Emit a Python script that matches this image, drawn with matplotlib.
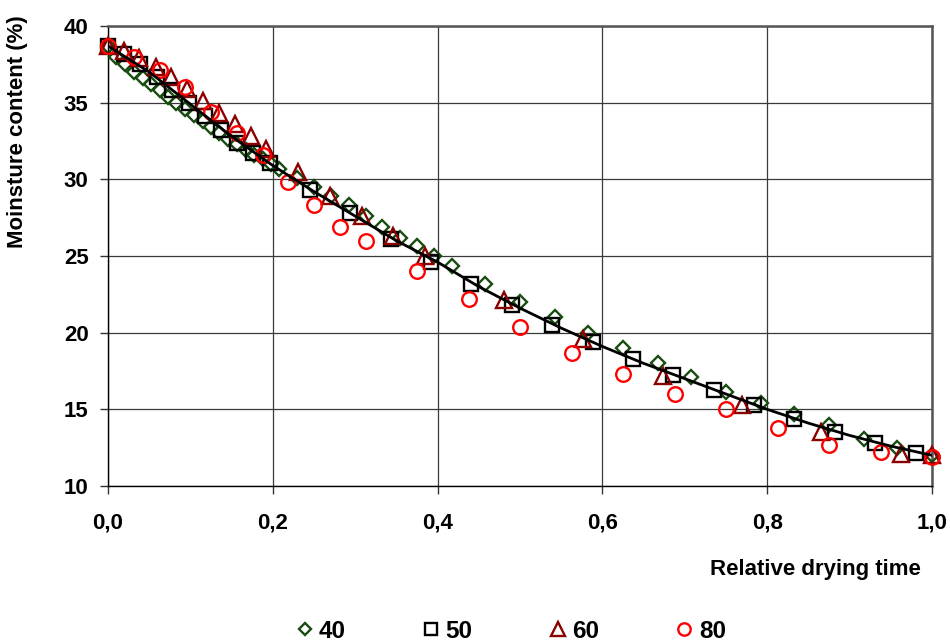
import matplotlib
matplotlib.use("Agg")
import matplotlib.pyplot as plt
from matplotlib.ticker import FuncFormatter

plt.rcParams['font.family'] = ['Liberation Sans', 'DejaVu Sans']

# ---- data ----
x40 = [0, 0.010, 0.021, 0.031, 0.042, 0.052, 0.063, 0.073, 0.083, 0.094, 0.104, 0.115,
       0.125, 0.135, 0.146, 0.156, 0.167, 0.177, 0.188, 0.198, 0.208, 0.229, 0.250, 0.271,
       0.292, 0.313, 0.333, 0.354, 0.375, 0.396, 0.417, 0.458, 0.500, 0.542, 0.583, 0.625,
       0.667, 0.708, 0.750, 0.792, 0.833, 0.875, 0.917, 0.958, 1.000]
y40 = [38.7, 38.0, 37.5, 37.0, 36.6, 36.2, 35.8, 35.4, 35.0, 34.6, 34.2, 33.8,
       33.4, 33.0, 32.6, 32.3, 31.9, 31.6, 31.3, 31.0, 30.7, 30.1, 29.5, 28.9,
       28.3, 27.6, 26.9, 26.2, 25.65, 25.0, 24.35, 23.2, 22.0, 21.0, 20.0, 19.0,
       18.0, 17.1, 16.1, 15.4, 14.7, 14.0, 13.05, 12.5, 12.0]

x50 = [0, 0.0196, 0.039, 0.059, 0.078, 0.098, 0.118, 0.137, 0.157, 0.176, 0.196, 0.245,
       0.294, 0.343, 0.392, 0.441, 0.490, 0.539, 0.588, 0.637, 0.686, 0.735, 0.784, 0.833,
       0.882, 0.931, 0.980]
y50 = [38.7, 38.2, 37.5, 36.7, 35.8, 34.95, 34.1, 33.2, 32.4, 31.7, 31.05, 29.3,
       27.8, 26.1, 24.6, 23.2, 21.8, 20.5, 19.4, 18.3, 17.24, 16.26, 15.28, 14.4,
       13.54, 12.8, 12.13]

x60 = [0, 0.019, 0.038, 0.058, 0.077, 0.096, 0.115, 0.135, 0.154, 0.173, 0.192, 0.231,
       0.269, 0.308, 0.346, 0.385, 0.481, 0.577, 0.673, 0.769, 0.865, 0.962, 1.0]
y60 = [38.7, 38.4, 37.9, 37.3, 36.7, 35.9, 35.1, 34.3, 33.6, 32.8, 32.0, 30.5,
       28.9, 27.6, 26.3, 25.0, 22.1, 19.6, 17.2, 15.3, 13.5, 12.1, 12.0]

x80 = [0, 0.031, 0.063, 0.094, 0.125, 0.156, 0.188, 0.219, 0.250, 0.281, 0.313, 0.375,
       0.438, 0.500, 0.563, 0.625, 0.688, 0.750, 0.813, 0.875, 0.938, 1.0]
y80 = [38.7, 38.0, 37.1, 36.0, 34.4, 33.0, 31.6, 29.8, 28.3, 26.9, 26.0, 24.0,
       22.2, 20.4, 18.7, 17.3, 16.0, 15.0, 13.8, 12.7, 12.2, 11.9]

fit_x = [0.00, 0.05, 0.10, 0.15, 0.20, 0.25, 0.30, 0.35, 0.40, 0.45, 0.50,
         0.55, 0.60, 0.65, 0.70, 0.75, 0.80, 0.85, 0.90, 0.95, 1.00]
fit_y = [38.7, 37.0, 34.9, 32.8, 30.9, 29.2, 27.6, 26.0, 24.6, 23.0, 21.6,
         20.3, 19.1, 18.0, 17.0, 16.0, 15.0, 14.1, 13.3, 12.6, 12.0]

series_labels = ['40', '50', '60', '80']
x_ticks = [0.0, 0.2, 0.4, 0.6, 0.8, 1.0]
y_ticks = [10, 15, 20, 25, 30, 35, 40]

# ---- figure ----
fig = plt.figure(figsize=(9.5, 6.42), dpi=100)
ax = fig.add_axes([108/950, 1-486/642, (932-108)/950, (486-26)/642])

mk = dict(linestyle='none', markerfacecolor='none', markeredgewidth=1.7, clip_on=False)
h40, = ax.plot(x40, y40, marker='D', markersize=7.3, markeredgecolor='#184c10', label=series_labels[0], zorder=3, **mk)
h50, = ax.plot(x50, y50, marker='s', markersize=10, markeredgecolor='black', label=series_labels[1], zorder=4, **mk)
h60, = ax.plot(x60, y60, marker='^', markersize=11.5, markeredgecolor='#8b0000', label=series_labels[2], zorder=5, **mk)
h80, = ax.plot(x80, y80, marker='o', markersize=10.5, markeredgecolor='#ff0000', label=series_labels[3], zorder=6, **mk)
ax.plot(fit_x, fit_y, color='black', linewidth=2.0, zorder=7)

ax.set_xlim(0, 1.0)
ax.set_ylim(10, 40)
ax.set_xticks(x_ticks)
ax.set_yticks(y_ticks)
ax.xaxis.set_major_formatter(FuncFormatter(lambda v, p: f"{v:.1f}".replace('.', ',')))
ax.grid(True, color='#3a3a3a', linewidth=0.9)
ax.set_axisbelow(True)
for s in ['top', 'right']:
    ax.spines[s].set_color('#555555')
    ax.spines[s].set_linewidth(1.8)
for s in ['left', 'bottom']:
    ax.spines[s].set_color('black')
    ax.spines[s].set_linewidth(1.0)
ax.tick_params(axis='both', direction='out', length=6, width=1, color='#333333')
ax.tick_params(axis='y', pad=8, labelsize=16)
ax.tick_params(axis='x', pad=13, labelsize=16)
for lab in ax.get_xticklabels() + ax.get_yticklabels():
    lab.set_fontweight('bold')

fig.text(18/950, 1-132/642, 'Moinsture content (%)', rotation=90, ha='center', va='center',
         fontsize=16, fontweight='bold')
fig.text(921/950, 1-569/642, 'Relative drying time', ha='right', va='center',
         fontsize=16, fontweight='bold')

leg = fig.legend(handles=[h40, h50, h60, h80], loc='center', bbox_to_anchor=(0.536, 1-631/642),
                 ncol=4, frameon=False, columnspacing=3.0, handletextpad=0.1, handlelength=1.0,
                 markerscale=0.85, prop={'weight': 'bold', 'size': 17.5})

fig.savefig('out.png', dpi=100)
